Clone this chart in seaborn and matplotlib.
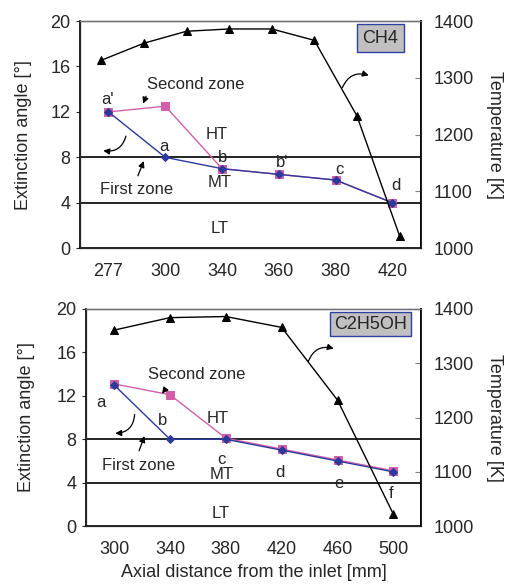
import matplotlib
matplotlib.use("Agg")
import matplotlib.pyplot as plt
import seaborn as sns
import numpy as np

sns.set_style("white")
plt.rcParams['font.family'] = ['Liberation Sans', 'DejaVu Sans']

# ---------------- data ----------------
ch4_positions = ["277", "300", "340", "360", "380", "420"]
ch4_first_zone = [12.0, 8.0, 7.0, 6.5, 6.0, 4.0]
ch4_second_zone = [12.0, 12.5, 7.0, 6.5, 6.0, 4.0]
ch4_temperature = [1331, 1361, 1382, 1386, 1386, 1366, 1233, 1022]

eth_positions = ["300", "340", "380", "420", "460", "500"]
eth_first_zone = [13.0, 8.0, 8.0, 7.0, 6.0, 5.0]
eth_second_zone = [13.1, 12.1, 8.1, 7.1, 6.1, 5.1]
eth_temperature = [1361, 1384, 1386, 1366, 1232, 1022]

angle_ticks = [0, 4, 8, 12, 16, 20]
temp_ticks = [1000, 1100, 1200, 1300, 1400]
zone_limits = [8, 4]

BLUE = "#2b3a9c"
PINK = "#d45fa8"
FS = 13
AFS = 12

fig = plt.figure(figsize=(5.07, 5.84), dpi=100)
ax1 = fig.add_axes([0.158, 0.575, 0.672, 0.389])
ax2 = fig.add_axes([0.170, 0.099, 0.661, 0.372])


def panel(ax, positions, first, second, temp, ylab_x):
    idx = np.arange(len(positions))
    for y in zone_limits:
        ax.axhline(y, color="black", lw=1.2, zorder=1)
    sns.lineplot(x=idx, y=second, ax=ax, color=PINK, lw=1.0, marker="s",
                 markersize=5.5, markeredgecolor=PINK, sort=False, zorder=3)
    sns.lineplot(x=idx, y=first, ax=ax, color=BLUE, lw=1.0, marker="D",
                 markersize=4.2, markeredgecolor=BLUE, sort=False, zorder=4)
    ax.set_xlim(-0.5, len(positions) - 0.5)
    ax.set_ylim(0, 20)
    ax.set_yticks(angle_ticks)
    ax.set_yticklabels([str(t) for t in angle_ticks], fontsize=FS)
    ax.set_xticks(idx)
    ax.set_xticklabels(positions, fontsize=FS)
    ax.set_xticks(idx[:-1] + 0.5, minor=True)
    ax.tick_params(axis="x", which="major", length=0, pad=11)
    ax.tick_params(axis="x", which="minor", direction="in", length=4,
                   color="#808080", width=1)
    ax.tick_params(axis="y", direction="out", length=3, pad=4, width=0.8,
                   left=True)
    ax.set_ylabel("Extinction angle [°]", fontsize=FS)
    ax.yaxis.set_label_coords(ylab_x, 0.5)
    ax.set_xlabel("")
    for s in ["left", "bottom", "right"]:
        ax.spines[s].set_color("black")
        ax.spines[s].set_linewidth(1.2)
    ax.spines["top"].set_color("#707070")
    ax.spines["top"].set_linewidth(1.0)

    axt = ax.twinx()
    axt.set_ylim(1000, 1400)
    axt.set_yticks(temp_ticks)
    axt.set_yticklabels([str(t) for t in temp_ticks], fontsize=FS)
    axt.tick_params(axis="y", direction="in", length=4, pad=9, width=0.8,
                    color="#808080")
    axt.set_ylabel("Temperature [K]", fontsize=FS, rotation=270, labelpad=21)
    axt.spines["right"].set_color("black")
    axt.spines["right"].set_linewidth(1.2)
    axt.spines["top"].set_color("#707070")

    axtt = axt.twiny()
    tidx = np.arange(len(temp))
    sns.lineplot(x=tidx, y=temp, ax=axtt, color="black", lw=1.0, marker="^",
                 markersize=6, markeredgecolor="black", sort=False, zorder=5)
    axtt.set_xlim(-0.5, len(temp) - 0.5)
    axtt.set_xticks([])
    axtt.set_xlabel("")
    axtt.set_ylabel("")
    axtt.spines["top"].set_color("#707070")
    return axtt


def arrow(ax, tail, head, rad=0.0):
    ax.annotate("", xy=head, xytext=tail,
                arrowprops=dict(arrowstyle="-|>", color="black", lw=0.9,
                                mutation_scale=9,
                                connectionstyle=f"arc3,rad={rad}"),
                zorder=9)


# ---------------- top panel (CH4) ----------------
panel(ax1, ch4_positions, ch4_first_zone, ch4_second_zone,
      ch4_temperature, -0.14)
for txt, x, y in [("a'", -0.02, 13.1), ("a", 0.98, 8.93), ("b", 2.0, 7.97),
                  ("b'", 3.05, 7.55), ("c", 4.06, 6.94), ("d", 5.07, 5.53),
                  ("HT", 1.9, 10.0), ("MT", 1.96, 5.8), ("LT", 1.96, 1.7),
                  ("Second zone", 1.53, 14.4), ("First zone", 0.5, 5.2)]:
    ax1.text(x, y, txt, fontsize=AFS, ha="center", va="center", zorder=8)
ax1.text(4.79, 18.5, "CH4", fontsize=FS, ha="center", va="center", zorder=10,
         bbox=dict(boxstyle="square,pad=0.3", facecolor="#c0c0c0",
                   edgecolor="#3040a0", linewidth=1.0))
arrow(ax1, (0.68, 13.6), (0.59, 12.5))
arrow(ax1, (0.50, 6.15), (0.64, 7.9))
arrow(ax1, (0.32, 10.1), (-0.14, 8.64), rad=-0.5)
arrow(ax1, (4.1, 13.9), (4.63, 15.14), rad=-0.5)

# ---------------- bottom panel (C2H5OH) ----------------
panel(ax2, eth_positions, eth_first_zone, eth_second_zone,
      eth_temperature, -0.152)
for txt, x, y in [("a", -0.24, 11.43), ("b", 0.86, 9.7), ("c", 1.93, 6.14),
                  ("d", 2.96, 4.9), ("e", 4.03, 3.93), ("f", 4.96, 3.0),
                  ("HT", 1.85, 9.9), ("MT", 1.93, 4.76), ("LT", 1.91, 1.2),
                  ("Second zone", 1.48, 14.0), ("First zone", 0.43, 5.6)]:
    ax2.text(x, y, txt, fontsize=AFS, ha="center", va="center", zorder=8)
ax2.text(4.59, 18.6, "C2H5OH", fontsize=FS, ha="center", va="center",
         zorder=10,
         bbox=dict(boxstyle="square,pad=0.2", facecolor="#c0c0c0",
                   edgecolor="#3040a0", linewidth=1.0))
arrow(ax2, (0.95, 12.84), (0.83, 11.98))
arrow(ax2, (0.43, 6.7), (0.56, 8.54))
arrow(ax2, (0.37, 10.54), (-0.03, 8.54), rad=-0.5)
arrow(ax2, (3.46, 14.93), (3.98, 16.28), rad=-0.5)
ax2.set_xlabel("Axial distance from the inlet [mm]", fontsize=FS, labelpad=4)

fig.savefig("out.png", dpi=100)
